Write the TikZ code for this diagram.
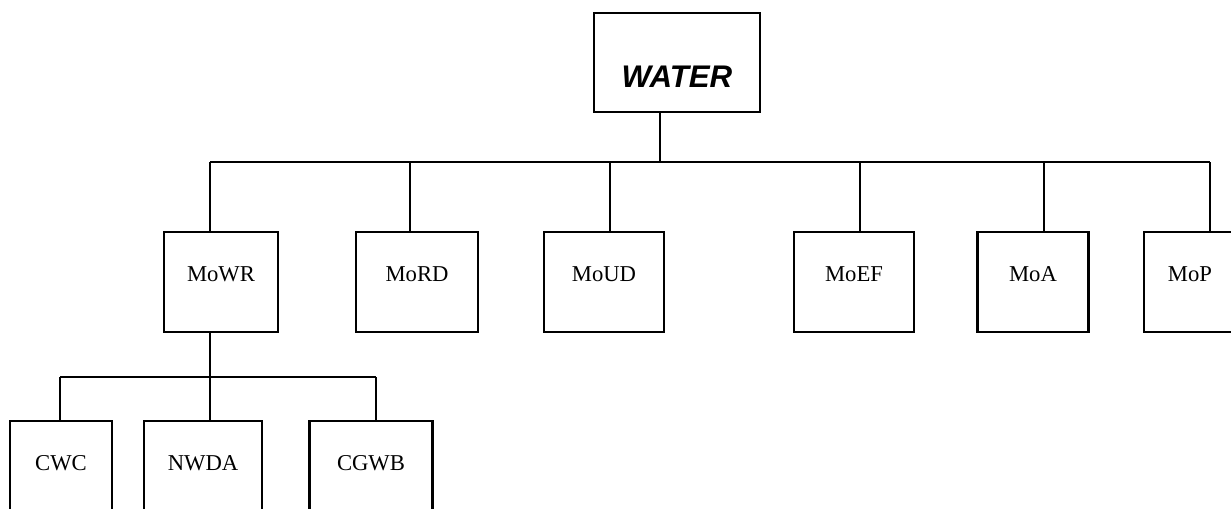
\documentclass[tikz,border=0pt]{standalone}
\usepackage{fontspec}
\setmainfont{Liberation Serif}
\newfontfamily\headfont{Liberation Sans}
\usetikzlibrary{positioning, calc}

\begin{document}
\begin{tikzpicture}[
    x=0.02cm, y=-0.02cm,
    % Style for the boxes
    orgbox/.style={
        rectangle,
        draw,
        line width=1.3pt,
        minimum height=2cm,
        text height=1.5ex,
        text depth=1.5ex,
        font=\fontsize{12.9}{15}\selectfont,
        anchor=north,
        outer sep=0pt
    },
    % Style for the connecting lines
    link/.style={line width=1.3pt}
]

    % --- Frame ---
    \useasboundingbox (0,0) rectangle (1231,508);

    % --- Top Box ---
    \node[orgbox, minimum width=3.32cm, minimum height=1.98cm,
          text height=28pt, text depth=0pt,
          font=\headfont\bfseries\itshape\fontsize{17.8}{20}\selectfont]
          (water) at (677,13) {WATER};
    \coordinate (hub) at (660,162);
    \draw[link] (water.south -| hub) -- (hub);

    % --- Ministries ---
    \foreach \org/\cx/\boxw/\dx in {MoWR/221/2.28/210, MoRD/417/2.44/410,
        MoUD/604/2.40/610, MoEF/854/2.40/860, MoA/1033/2.22/1044, MoP/1190/1.84/1210} {
        \node[orgbox, minimum width=\boxw cm] (\org) at (\cx,232) {\org};
        \coordinate (drop\org) at (\dx,162);
        \draw[link] (drop\org) -- (\org.north -| drop\org);
    }
    \draw[link] (dropMoWR) -- (dropMoP);

    % --- Bodies under MoWR ---
    \foreach \org/\cx/\boxw/\dx in {CWC/61/2.04/60, NWDA/203/2.36/210, CGWB/371/2.46/376} {
        \node[orgbox, minimum width=\boxw cm] (\org) at (\cx,421) {\org};
        \coordinate (sub\org) at (\dx,377);
        \draw[link] (sub\org) -- (\org.north -| sub\org);
    }
    \draw[link] (subCWC) -- (subCGWB);
    \draw[link] (MoWR.south -| subNWDA) -- (subNWDA);

\end{tikzpicture}
\end{document}
